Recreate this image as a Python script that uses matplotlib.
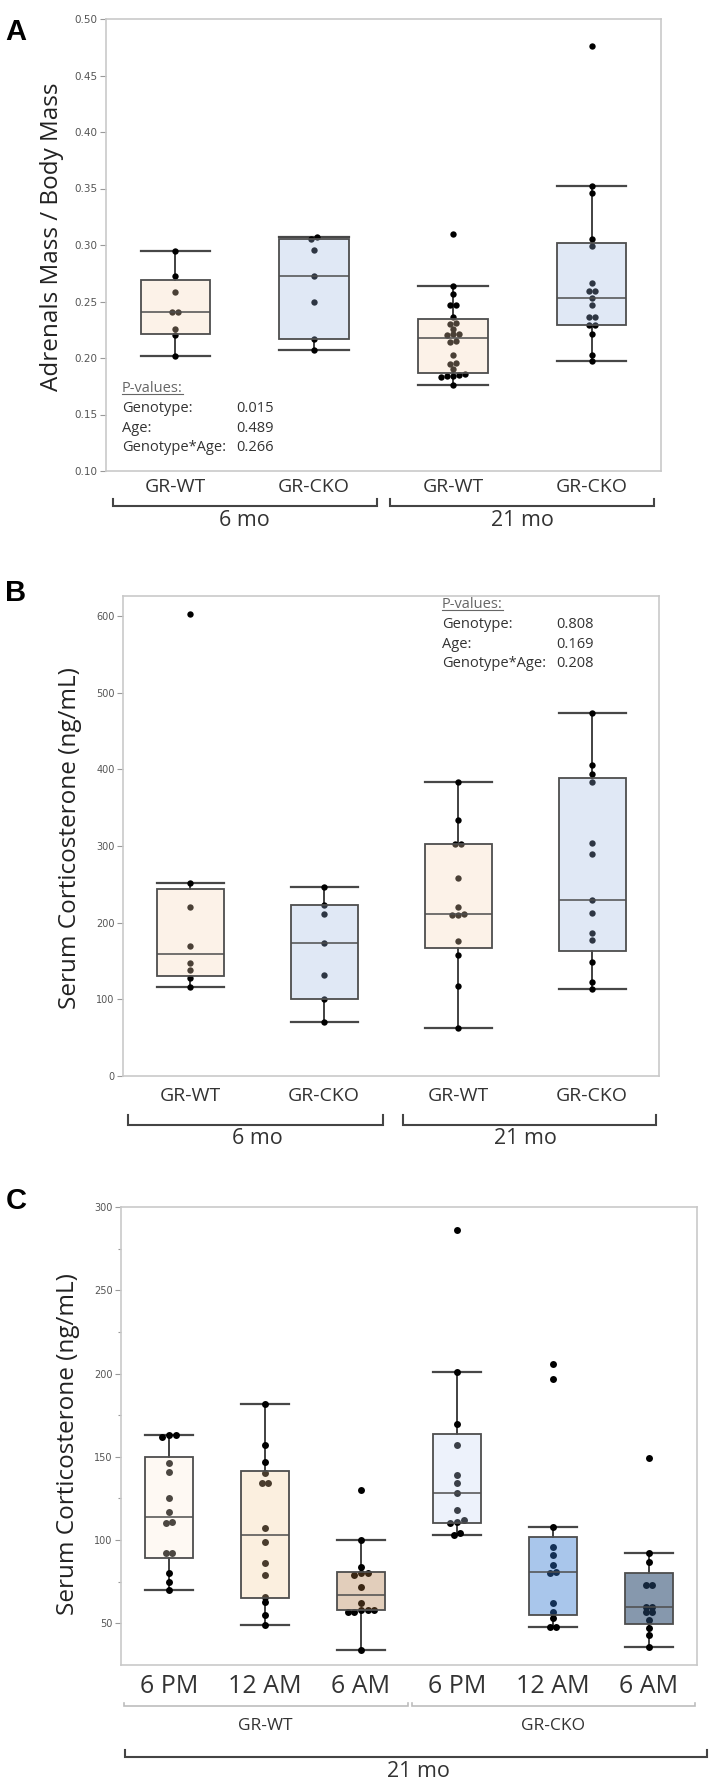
import numpy as np
import matplotlib
matplotlib.use("Agg")
import matplotlib.pyplot as plt
from matplotlib.colors import to_rgb
from matplotlib.lines import Line2D

plt.rcParams['font.family'] = ['Open Sans', 'DejaVu Sans']

W, H = 714, 1789

# ---------------- data ----------------
genotypes = ['GR-WT', 'GR-CKO', 'GR-WT', 'GR-CKO']
ages = ['6 mo', '21 mo']

# panel A: adrenals mass / body mass
adr_wt_6 = [0.295, 0.273, 0.258, 0.241, 0.241, 0.226, 0.220, 0.202]
adr_cko_6 = [0.307, 0.305, 0.296, 0.273, 0.250, 0.217, 0.207]
adr_wt_21 = [0.310, 0.264, 0.257, 0.247, 0.247, 0.236, 0.231, 0.230, 0.226, 0.221,
             0.221, 0.220, 0.215, 0.214, 0.203, 0.196, 0.195, 0.190, 0.186, 0.185,
             0.184, 0.184, 0.183, 0.176]
adr_cko_21 = [0.476, 0.352, 0.346, 0.305, 0.299, 0.266, 0.259, 0.259, 0.253, 0.247,
              0.236, 0.236, 0.229, 0.229, 0.221, 0.203, 0.197]

# panel B: serum corticosterone by age
cort_wt_6 = [603, 252, 220, 170, 148, 138, 128, 116]
cort_cko_6 = [247, 223, 211, 174, 132, 100, 71]
cort_wt_21 = [384, 334, 302, 302, 258, 220, 211, 210, 210, 176, 158, 118, 62]
cort_cko_21 = [473, 406, 394, 384, 304, 290, 229, 212, 186, 177, 149, 123, 114]

# panel C: serum corticosterone by time of day (21 mo)
times = ['6 PM', '12 AM', '6 AM', '6 PM', '12 AM', '6 AM']
genotypes_c = ['GR-WT', 'GR-CKO']
wt_6pm = [163, 163, 162, 146, 141, 125, 117, 111, 110, 92, 92, 80, 75, 70]
wt_12am = [182, 157, 147, 140, 134, 134, 107, 99, 86, 79, 66, 63, 55, 49]
wt_6am = [130, 100, 84, 80, 80, 79, 72, 62, 58, 58, 58, 57, 57, 34]
cko_6pm = [286, 201, 170, 157, 139, 134, 128, 118, 112, 111, 110, 104, 103]
cko_12am = [206, 197, 108, 96, 91, 85, 81, 80, 62, 57, 53, 48, 48]
cko_6am = [149, 92, 87, 73, 73, 60, 60, 57, 57, 52, 47, 43, 36]

pval_terms = ['Genotype:', 'Age:', 'Genotype*Age:']
pvals_a = ['0.015', '0.489', '0.266']
pvals_b = ['0.808', '0.169', '0.208']

# colours as they appear on white
wt_fill = '#fdf3e9'
cko_fill = '#e1e9f6'
c_fills = ['#fefaf4', '#fcefe0', '#e2cebb', '#eef3fb', '#a9c6eb', '#8698ad']


def fill_rgba(seen):
    # translucent fill that looks like `seen` over white, dots show through darker
    r = np.array(to_rgb(seen))
    a = max(0.3, 1 - r.min() + 0.08)
    base = np.clip((r - (1 - a)) / a, 0, 1)
    return (*base, a)


def box_stats(vals):
    v = np.asarray(vals, float)
    q1, med, q3 = np.percentile(v, [25, 50, 75], method='weibull')
    iqr = q3 - q1
    return dict(med=med, q1=q1, q3=q3,
                whislo=v[v >= q1 - 1.5 * iqr].min(),
                whishi=v[v <= q3 + 1.5 * iqr].max(), fliers=[])


def swarm_offsets(vals, tol, dx):
    vals = np.asarray(vals, float)
    order = np.argsort(vals)
    out = np.zeros(len(vals))
    clusters, cur = [], [order[0]]
    for i in order[1:]:
        if vals[i] - vals[cur[-1]] <= tol:
            cur.append(i)
        else:
            clusters.append(cur)
            cur = [i]
    clusters.append(cur)
    for c in clusters:
        for k, idx in enumerate(c):
            out[idx] = (k - (len(c) - 1) / 2) * dx
    return out


def make_ax(l, t, r, b):
    return fig.add_axes([l / W, 1 - b / H, (r - l) / W, (b - t) / H])


def ftext(x, y, s, **kw):
    return fig.text(x / W, 1 - y / H, s, **kw)


def draw_boxes(ax, data, fills, dot, dx, tol):
    pos = np.arange(len(data))
    bp = ax.bxp([box_stats(v) for v in data], positions=pos, widths=0.5, capwidths=0.5,
                patch_artist=True, showfliers=False,
                boxprops=dict(edgecolor='#4d4d4d', linewidth=1.3, zorder=3),
                medianprops=dict(color='#4d4d4d', linewidth=1.1, zorder=4),
                whiskerprops=dict(color='#333333', linewidth=1.3, zorder=1),
                capprops=dict(color='#474747', linewidth=1.6, zorder=1))
    for patch, c in zip(bp['boxes'], fills):
        patch.set_facecolor(fill_rgba(c))
    for p, v in zip(pos, data):
        ax.scatter(p + swarm_offsets(v, tol, dx), v, s=dot, color='black',
                   linewidths=0, zorder=2)


def style_ax(ax, ticks, fmt, size=7):
    for sp in ax.spines.values():
        sp.set_color('#c9c9c9')
        sp.set_linewidth(1.2)
    ax.set_yticks(ticks, labels=[fmt.format(t) for t in ticks],
                  fontfamily='DejaVu Sans', fontsize=size, color='#555555')
    ax.tick_params(axis='y', length=4, width=0.8, color='#9a9a9a', pad=2)


def below(ax, px):
    # pixels below the frame -> axes fraction
    return -px / (ax.get_position().height * H)


def brace(ax, x0, x1, y_px, h_px, color='#444444', lw=1.5):
    y = below(ax, y_px)
    dh = h_px / (ax.get_position().height * H)
    ax.plot([x0, x0, x1, x1], [y + dh, y, y, y + dh], transform=ax.get_xaxis_transform(),
            clip_on=False, color=color, lw=lw, solid_joinstyle='miter')


def under(ax, x, y_px, s, size):
    ax.text(x, below(ax, y_px), s, transform=ax.get_xaxis_transform(),
            ha='center', va='center', fontsize=size, color='#333333')


def pvalue_block(x, y, x_val, vals):
    t = ftext(x, y, 'P-values:', fontsize=10.5, color='#666666', va='center')
    fig.canvas.draw()
    bb = t.get_window_extent(fig.canvas.get_renderer())
    fig.add_artist(Line2D([bb.x0 / W, bb.x1 / W], [(bb.y0 + 3) / H, (bb.y0 + 3) / H],
                          color='#666666', lw=0.8))
    for k, (term, v) in enumerate(zip(pval_terms, vals)):
        ftext(x, y + 19.6 * (k + 1), term, fontsize=10.5, color='#333333', va='center')
        ftext(x_val, y + 19.6 * (k + 1), v, fontsize=10.5, color='#333333', va='center')


fig = plt.figure(figsize=(W / 100, H / 100), dpi=100)
fig.patch.set_facecolor('white')

# ---------------- panel A ----------------
axA = make_ax(106, 19, 661, 471)
draw_boxes(axA, [adr_wt_6, adr_cko_6, adr_wt_21, adr_cko_21],
           [wt_fill, cko_fill, wt_fill, cko_fill], dot=21, dx=0.043, tol=0.0035)
axA.set_xlim(-0.5, 3.5)
axA.set_ylim(0.10, 0.50)
style_ax(axA, np.round(np.arange(0.10, 0.501, 0.05), 2), '{:.2f}', size=7.5)
axA.set_xticks(range(4), labels=genotypes, fontsize=14, color='#333333')
axA.tick_params(axis='x', length=0, pad=16.5 * 0.72)
plt.setp(axA.get_xticklabels(), va='center')
brace(axA, -0.45, 1.45, 35, 7)
brace(axA, 1.55, 3.45, 35, 7)
under(axA, 0.5, 50, ages[0], 15.5)
under(axA, 2.5, 50, ages[1], 15.5)
ftext(52, 237, 'Adrenals Mass / Body Mass', rotation=90, ha='center', va='center',
      fontsize=17.5, color='#222222')
ftext(16, 32, 'A', fontfamily='Liberation Sans', fontweight='bold', fontsize=21,
      ha='center', va='center')
pvalue_block(122, 389, 236, pvals_a)

# ---------------- panel B ----------------
axB = make_ax(123, 596, 659, 1076)
draw_boxes(axB, [cort_wt_6, cort_cko_6, cort_wt_21, cort_cko_21],
           [wt_fill, cko_fill, wt_fill, cko_fill], dot=21, dx=0.045, tol=5.2)
axB.set_xlim(-0.5, 3.5)
axB.set_ylim(0, 626)
style_ax(axB, np.arange(0, 601, 100), '{:d}')
axB.set_xticks(range(4), labels=genotypes, fontsize=14, color='#333333')
axB.tick_params(axis='x', length=0, pad=19.7 * 0.72)
plt.setp(axB.get_xticklabels(), va='center')
brace(axB, -0.46, 1.44, 49, 10)
brace(axB, 1.59, 3.48, 49, 10)
under(axB, 0.5, 63, ages[0], 15.5)
under(axB, 2.5, 63, ages[1], 15.5)
ftext(70, 838, 'Serum Corticosterone (ng/mL)', rotation=90, ha='center', va='center',
      fontsize=17.5, color='#222222')
ftext(16, 593, 'B', fontfamily='Liberation Sans', fontweight='bold', fontsize=21,
      ha='center', va='center')
pvalue_block(442, 605, 556, pvals_b)

# ---------------- panel C ----------------
axC = make_ax(121, 1207, 697, 1665)
draw_boxes(axC, [wt_6pm, wt_12am, wt_6am, cko_6pm, cko_12am, cko_6am],
           c_fills, dot=25, dx=0.068, tol=2.5)
axC.set_xlim(-0.5, 5.5)
axC.set_ylim(25, 300)
style_ax(axC, np.arange(50, 301, 50), '{:d}')
axC.set_yticks(np.arange(75, 300, 50), minor=True)
axC.tick_params(axis='y', which='minor', length=2.5, width=0.8, color='#9a9a9a')
axC.set_xticks(range(6), labels=times, fontsize=18, color='#333333')
axC.tick_params(axis='x', length=0, pad=21.7 * 0.72)
plt.setp(axC.get_xticklabels(), va='center')
brace(axC, -0.47, 2.49, 40.7, 3, color='#bdbdbd', lw=1.2)
brace(axC, 2.53, 5.48, 40.7, 3, color='#bdbdbd', lw=1.2)
under(axC, 1.0, 61, genotypes_c[0], 12.5)
under(axC, 4.0, 61, genotypes_c[1], 12.5)
brace(axC, -0.46, 5.6, 91.7, 7)
under(axC, 2.6, 106.7, '21 mo', 15.5)
ftext(68, 1444, 'Serum Corticosterone (ng/mL)', rotation=90, ha='center', va='center',
      fontsize=17.5, color='#222222')
ftext(16, 1201, 'C', fontfamily='Liberation Sans', fontweight='bold', fontsize=21,
      ha='center', va='center')

fig.savefig('out.png', dpi=100, facecolor='white')
